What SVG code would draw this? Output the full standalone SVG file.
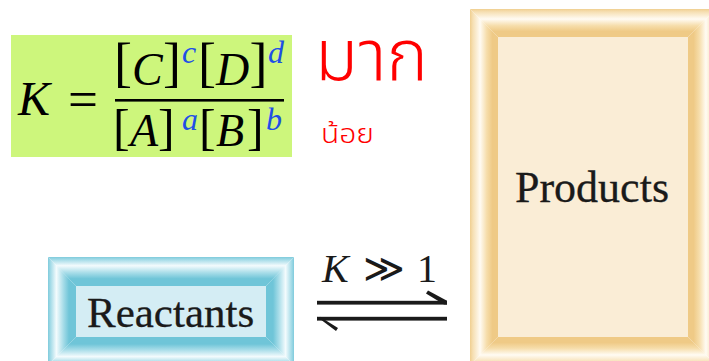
<svg xmlns="http://www.w3.org/2000/svg" width="709" height="361" viewBox="0 0 709 361">
<style>
.serif{font-family:"Liberation Serif","DejaVu Serif",serif;}
.it{font-style:italic;}
.sup{fill:#1f4fe6;font-style:italic;font-size:32px;}
.thai{font-family:"Noto Sans Thai","Leelawadee UI","Tahoma","Noto Sans","DejaVu Sans",sans-serif;fill:#ff0000;}
.lbl{font-family:"Liberation Serif","DejaVu Serif",serif;fill:#1a1a1a;stroke:#1a1a1a;stroke-width:0.3;}
.arrow{fill:#1a1a1a;}
</style>
<defs>
<linearGradient id="og" x1="0" y1="0" x2="1" y2="0"><stop offset="0" stop-color="#f0cf90"/><stop offset="0.1" stop-color="#f6dfb2"/><stop offset="0.36" stop-color="#fffbf3"/><stop offset="0.6" stop-color="#f6ddaa"/><stop offset="0.8" stop-color="#efca86"/><stop offset="1" stop-color="#efca86"/></linearGradient>
<linearGradient id="oT" href="#og" x1="0" y1="0" x2="0" y2="1"/>
<linearGradient id="oB" href="#og" x1="0" y1="1" x2="0" y2="0"/>
<linearGradient id="oL" href="#og" x1="0" y1="0" x2="1" y2="0"/>
<linearGradient id="oR" href="#og" x1="1" y1="0" x2="0" y2="0"/>
<linearGradient id="bg" x1="0" y1="0" x2="1" y2="0"><stop offset="0" stop-color="#7fcbdc"/><stop offset="0.08" stop-color="#9fd9e6"/><stop offset="0.3" stop-color="#f3fbfd"/><stop offset="0.55" stop-color="#a6dce8"/><stop offset="0.75" stop-color="#6fc5d8"/><stop offset="1" stop-color="#6fc5d8"/></linearGradient>
<linearGradient id="bT" href="#bg" x1="0" y1="0" x2="0" y2="1"/>
<linearGradient id="bB" href="#bg" x1="0" y1="1" x2="0" y2="0"/>
<linearGradient id="bL" href="#bg" x1="0" y1="0" x2="1" y2="0"/>
<linearGradient id="bR" href="#bg" x1="1" y1="0" x2="0" y2="0"/>
</defs>
<rect width="709" height="361" fill="#ffffff"/>

<g id="formula">
<rect x="11" y="35" width="281" height="122" fill="#cdf67c"/>
<text class="serif it" x="18" y="115" font-size="48" fill="#000">K</text>
<text class="serif" x="68" y="117" font-size="52" fill="#000" textLength="30" lengthAdjust="spacingAndGlyphs">=</text>
<rect x="115" y="99" width="169" height="2.6" fill="#000"/>
<text class="serif" fill="#000"><tspan x="114" y="81" font-size="54">[</tspan><tspan x="132" y="85" font-size="46" class="it">C</tspan><tspan x="163" y="81" font-size="54">]</tspan><tspan class="sup" x="182" y="63">c</tspan><tspan x="198" y="81" font-size="54">[</tspan><tspan x="216" y="85" font-size="46" class="it">D</tspan><tspan x="249.5" y="81" font-size="54">]</tspan><tspan class="sup" x="268" y="63">d</tspan></text>
<text class="serif" fill="#000"><tspan x="113" y="144" font-size="50">[</tspan><tspan x="130" y="146" font-size="46" class="it">A</tspan><tspan x="158" y="144" font-size="50">]</tspan><tspan class="sup" x="182" y="130">a</tspan><tspan x="199" y="144" font-size="50">[</tspan><tspan x="216" y="146" font-size="46" class="it">B</tspan><tspan x="247" y="144" font-size="50">]</tspan><tspan class="sup" x="266" y="130">b</tspan></text>
</g>

<g id="thai-labels">
<text class="thai" x="315" y="80" font-size="72" font-weight="300" textLength="113" lengthAdjust="spacingAndGlyphs">มาก</text>
<text class="thai" x="321" y="143" font-size="26" font-weight="300" textLength="53" lengthAdjust="spacingAndGlyphs">น้อย</text>
</g>

<g id="products">
<rect x="498" y="37" width="190" height="300" fill="#faedd6"/>
<polygon points="470,9 716,9 688,37 498,37" fill="url(#oT)"/>
<polygon points="470,365 716,365 688,337 498,337" fill="url(#oB)"/>
<polygon points="470,9 498,37 498,337 470,365" fill="url(#oL)"/>
<polygon points="716,9 688,37 688,337 716,365" fill="url(#oR)"/>
<text class="lbl" x="515" y="202" font-size="44">Products</text>
</g>

<g id="reactants">
<rect x="76" y="286" width="190" height="51" fill="#d4edf4"/>
<polygon points="48,257 294,257 266,286 76,286" fill="url(#bT)"/>
<polygon points="48,365 294,365 266,337 76,337" fill="url(#bB)"/>
<polygon points="48,257 76,286 76,337 48,365" fill="url(#bL)"/>
<polygon points="294,257 266,286 266,337 294,365" fill="url(#bR)"/>
<text class="lbl" x="87" y="327" font-size="43">Reactants</text>
</g>

<g id="connectors">
<rect class="arrow" x="317" y="300.8" width="130" height="3.8"/>
<polygon class="arrow" points="447,300.8 447,304.6 444,304.6 426,293.5 428,290.5"/>
<rect class="arrow" x="317" y="316.8" width="130" height="3.8"/>
<polygon class="arrow" points="317,316.8 317,320.6 320,316.8 338,328 336,331"/>
<text class="serif" y="282" font-size="40" fill="#1a1a1a"><tspan x="322" class="it">K</tspan><tspan x="363">≫</tspan><tspan x="417">1</tspan></text>
</g>
</svg>
